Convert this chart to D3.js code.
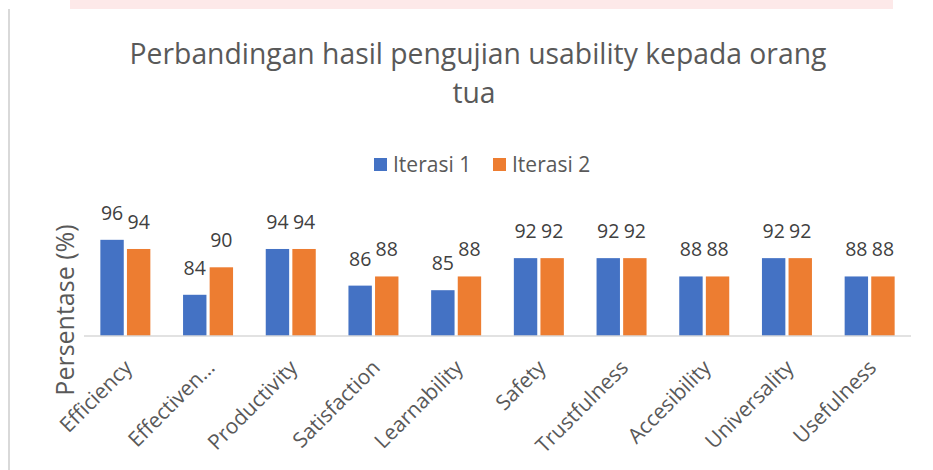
<!DOCTYPE html>
<html>
<head>
<meta charset="utf-8">
<script src="https://cdn.jsdelivr.net/npm/d3@7"></script>
<style>
  body { margin: 0; background: #fff; }
  text { font-family: "Open Sans", "Noto Sans", sans-serif; }
</style>
</head>
<body>
<div id="chart"></div>
<script>
var categories = ["Efficiency", "Effectiven…", "Productivity", "Satisfaction", "Learnability",
    "Safety", "Trustfulness", "Accesibility", "Universality", "Usefulness"];
var iterasi1 = [96, 84, 94, 86, 85, 92, 92, 88, 92, 88];
var iterasi2 = [94, 90, 94, 88, 88, 92, 92, 88, 92, 88];
var seriesNames = ["Iterasi 1", "Iterasi 2"];
var seriesColors = ["#4472c4", "#ed7d31"];

var width = 933, height = 470;
var margin = { top: 221.5, left: 84, right: 22, bottom: 134 };

var svg = d3.select("#chart").append("svg")
    .attr("width", width)
    .attr("height", height);

// faint strip at top and left frame line (screenshot leftovers)
svg.append("rect").attr("x", 70).attr("y", 0).attr("width", 823).attr("height", 9).attr("fill", "#fde9e9");
svg.append("line").attr("x1", 9).attr("x2", 9).attr("y1", 9).attr("y2", height)
    .attr("stroke", "#d9d9d9").attr("stroke-width", 2);

var x0 = d3.scaleBand()
    .domain(categories)
    .range([margin.left, width - margin.right]);

var x1 = d3.scaleBand()
    .domain(seriesNames)
    .range([x0.bandwidth() / 2 - 25, x0.bandwidth() / 2 + 25])
    .paddingInner(0.12);

var y = d3.scaleLinear()
    .domain([75, 100])
    .range([height - margin.bottom, margin.top]);

var rows = categories.map(function(c, i) {
    return { cat: c, vals: [iterasi1[i], iterasi2[i]] };
});

// title
var title = svg.append("text")
    .attr("text-anchor", "middle")
    .attr("fill", "#595959")
    .attr("font-size", 28.3);
title.append("tspan").attr("x", 478).attr("y", 64).text("Perbandingan hasil pengujian usability kepada orang");
title.append("tspan").attr("x", 474).attr("y", 103).text("tua");

// legend
var legend = svg.append("g");
var legX = [374, 493];
seriesNames.forEach(function(s, i) {
    legend.append("rect").attr("x", legX[i]).attr("y", 158).attr("width", 13).attr("height", 13)
        .attr("fill", seriesColors[i]);
    legend.append("text").attr("x", legX[i] + 19).attr("y", 172)
        .attr("font-size", 21).attr("fill", "#595959").text(s);
});

// bars
var groups = svg.append("g").selectAll("g")
    .data(rows)
    .enter().append("g")
    .attr("transform", function(d) { return "translate(" + x0(d.cat) + ",0)"; });

groups.selectAll("rect")
    .data(function(d) { return d.vals.map(function(v, i) { return { s: seriesNames[i], v: v, i: i }; }); })
    .enter().append("rect")
    .attr("x", function(d) { return x1(d.s); })
    .attr("width", x1.bandwidth())
    .attr("y", function(d) { return y(d.v); })
    .attr("height", function(d) { return y(75) - y(d.v); })
    .attr("fill", function(d) { return seriesColors[d.i]; });

groups.selectAll("text.lbl")
    .data(function(d) { return d.vals.map(function(v, i) { return { s: seriesNames[i], v: v, i: i }; }); })
    .enter().append("text")
    .attr("class", "lbl")
    .attr("x", function(d) { return x1(d.s) + x1.bandwidth() / 2; })
    .attr("y", function(d) { return y(d.v) - 20; })
    .attr("text-anchor", "middle")
    .attr("font-size", 19.5)
    .attr("fill", "#404040")
    .text(function(d) { return d.v; });

// baseline
svg.append("line")
    .attr("x1", margin.left).attr("x2", width - margin.right)
    .attr("y1", y(75)).attr("y2", y(75))
    .attr("stroke", "#d9d9d9").attr("stroke-width", 1.5);

// category labels
svg.append("g").selectAll("text")
    .data(categories)
    .enter().append("text")
    .attr("text-anchor", "end")
    .attr("font-size", 21)
    .attr("fill", "#595959")
    .attr("transform", function(d) {
        return "translate(" + (x0(d) + x0.bandwidth() / 2 + 8) + "," + (y(75) + 33) + ") rotate(-45)";
    })
    .text(function(d) { return d; });

// axis title
svg.append("text")
    .attr("text-anchor", "middle")
    .attr("font-size", 25)
    .attr("fill", "#595959")
    .attr("transform", "translate(74,310) rotate(-90)")
    .text("Persentase (%)");
</script>
</body>
</html>
